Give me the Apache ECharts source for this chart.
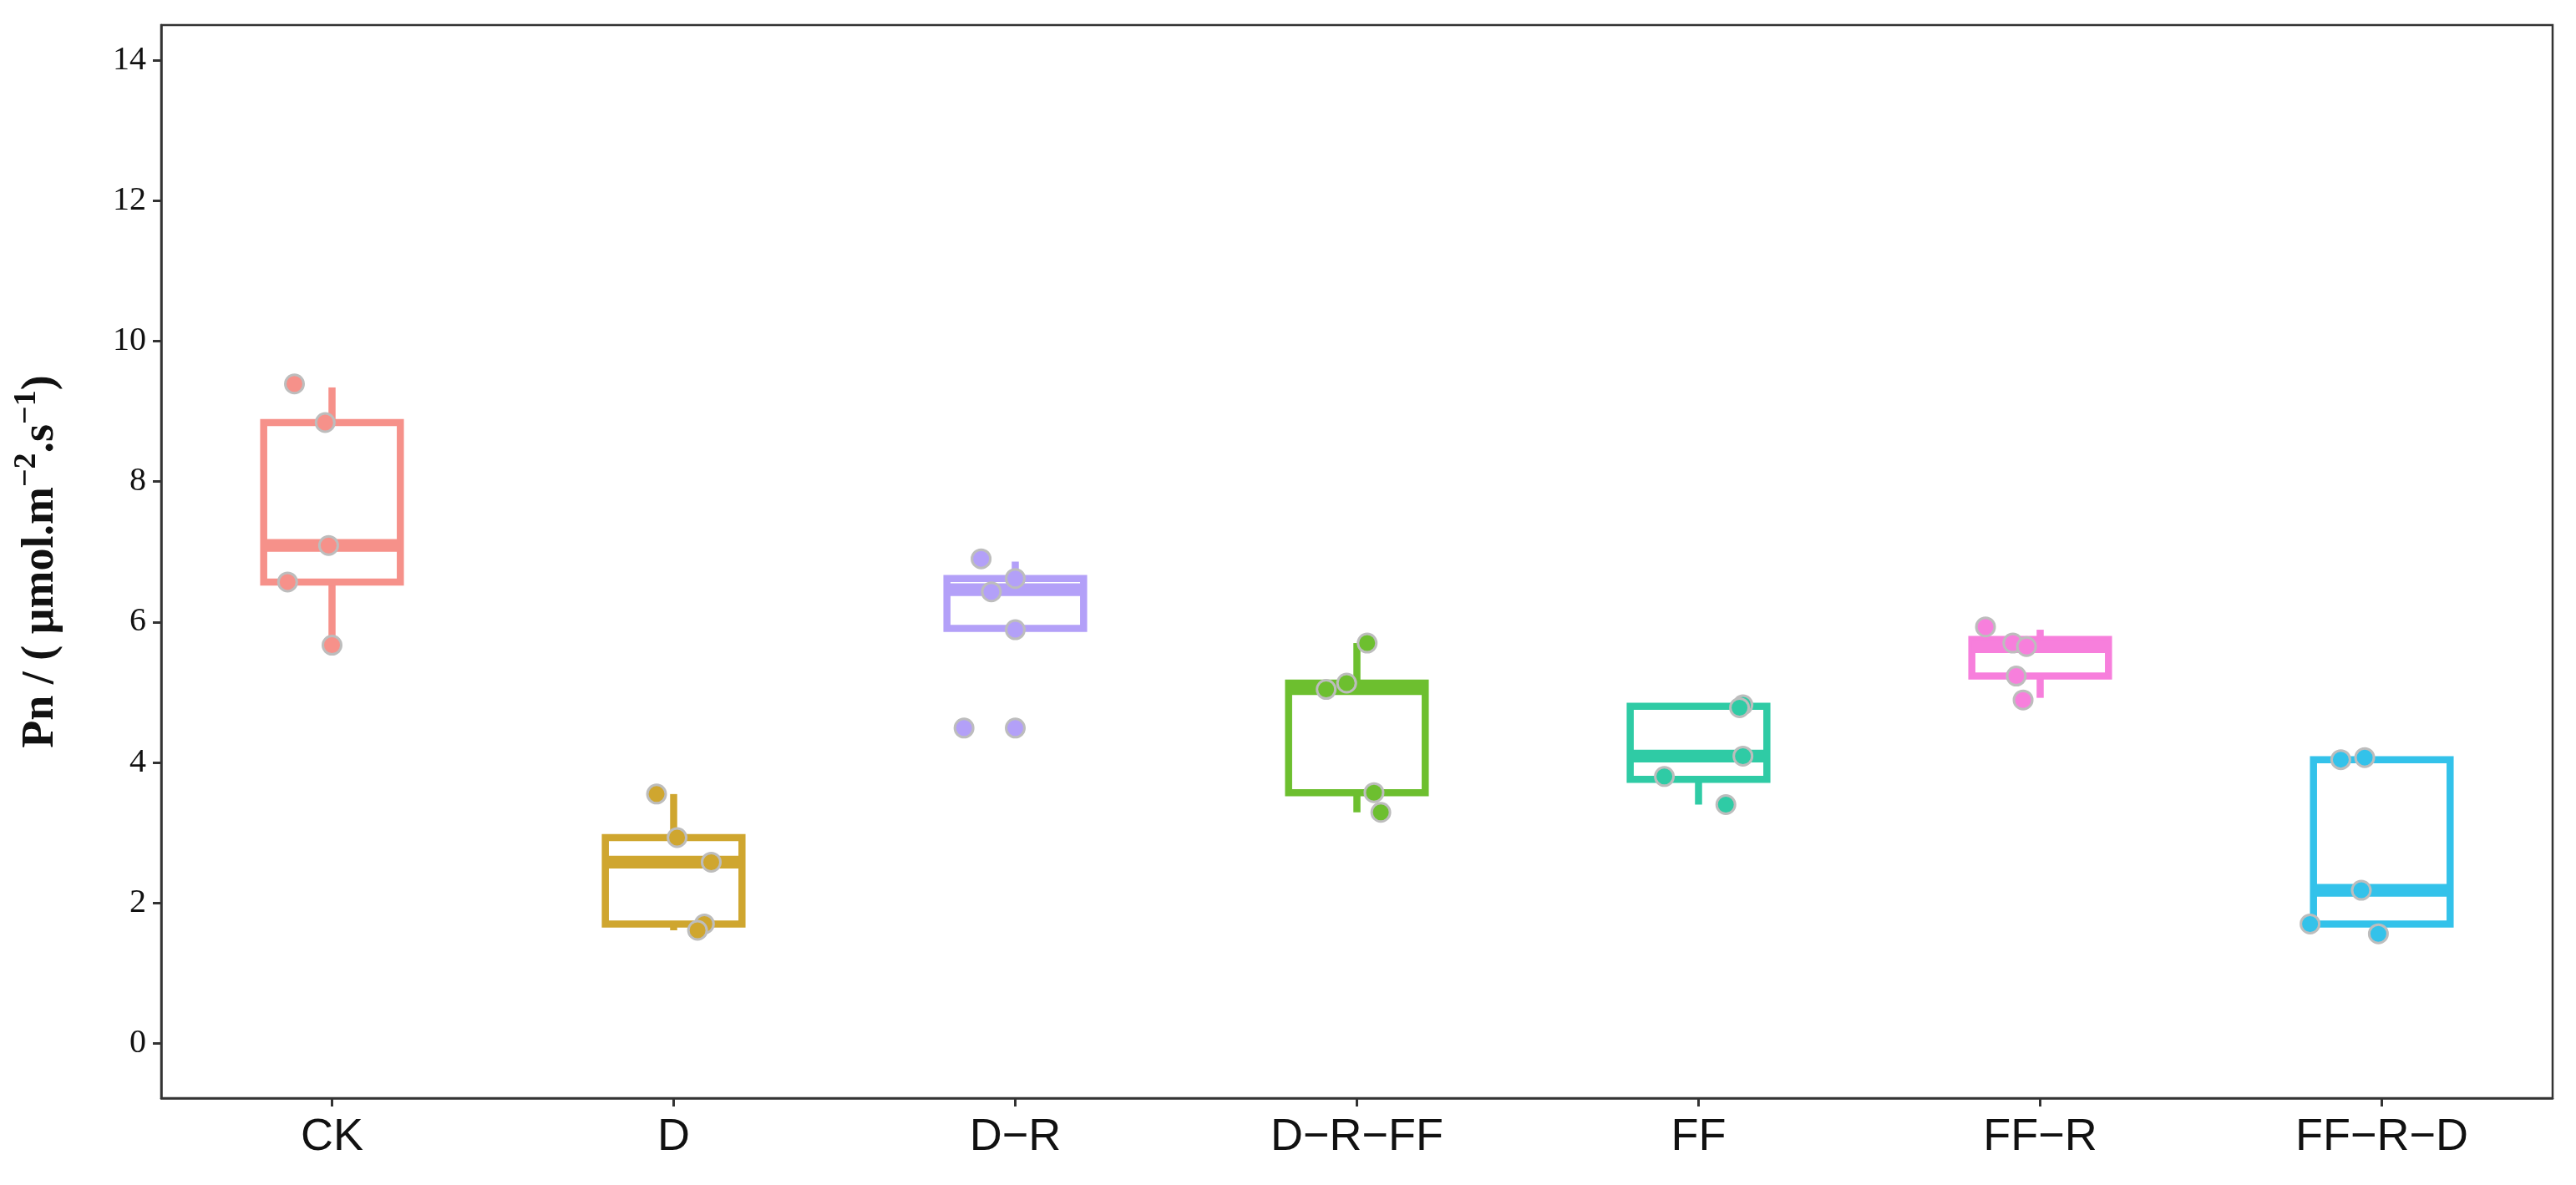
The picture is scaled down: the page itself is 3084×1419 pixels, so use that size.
<!DOCTYPE html>
<html><head><meta charset="utf-8">
<script src="https://cdn.jsdelivr.net/npm/echarts@6/dist/echarts.min.js"></script>
<style>html,body{margin:0;padding:0;background:#fff}#c{width:3084px;height:1419px}</style>
</head><body><div id="c"></div>
<script>
const categories = ['CK','D','D\u2212R','D\u2212R\u2212FF','FF','FF\u2212R','FF\u2212R\u2212D'];
const colors = ['#F6918A','#CFA62F','#B3A0F8','#6DBF2F','#2FCBA5','#F77FDC','#33C2EA'];
// [min, q1, median, q3, max]
const boxStats = [
  [5.67, 6.57, 7.09, 8.84, 9.34],
  [1.61, 1.70, 2.58, 2.93, 3.55],
  [5.89, 5.91, 6.46, 6.62, 6.86],
  [3.29, 3.57, 5.05, 5.13, 5.70],
  [3.40, 3.76, 4.09, 4.80, 4.80],
  [4.92, 5.23, 5.65, 5.75, 5.89],
  [1.58, 1.70, 2.18, 4.04, 4.04]
];
// jittered points: [category index + horizontal jitter, value]
const pointsCK = [[-0.11,9.39],[-0.02,8.84],[-0.01,7.09],[-0.13,6.57],[0.00,5.67]];
const pointsD = [[0.95,3.55],[1.01,2.93],[1.11,2.58],[1.09,1.70],[1.07,1.61]];
const pointsDR = [[1.90,6.90],[2.00,6.62],[1.93,6.43],[2.00,5.89],[1.85,4.49],[2.00,4.49]];
const pointsDRFF = [[3.03,5.70],[2.97,5.13],[2.91,5.04],[3.05,3.57],[3.07,3.29]];
const pointsFF = [[4.13,4.82],[4.12,4.78],[4.13,4.09],[3.90,3.80],[4.08,3.40]];
const pointsFFR = [[4.84,5.93],[4.92,5.70],[4.96,5.65],[4.93,5.23],[4.95,4.89]];
const pointsFFRD = [[5.88,4.04],[5.95,4.07],[5.94,2.18],[5.79,1.70],[5.99,1.56]];
const yTicks = [0,2,4,6,8,10,12,14];

const allPoints = [pointsCK,pointsD,pointsDR,pointsDRFF,pointsFF,pointsFFR,pointsFFRD];
const chart = echarts.init(document.getElementById('c'));
const scatterSeries = allPoints.map((pts,i)=>({
  type:'scatter', xAxisIndex:1, yAxisIndex:0, z:5,
  data: pts, symbolSize:22,
  itemStyle:{color:colors[i], borderColor:'#BDBDBD', borderWidth:3, opacity:1}
}));
chart.setOption({
  animation:false,
  backgroundColor:'#fff',
  grid:{left:193, right:28, top:30, bottom:104, show:true, borderColor:'#333', borderWidth:2.5, backgroundColor:'transparent'},
  xAxis:[
    {type:'category', data:categories, boundaryGap:true,
     axisLine:{show:true, onZero:false, lineStyle:{color:'#333', width:2.5}},
     axisTick:{show:true, alignWithLabel:true, length:10, lineStyle:{color:'#333', width:3}},
     axisLabel:{fontFamily:'Liberation Sans', fontSize:54, color:'#111', margin:20},
     splitLine:{show:false}},
    {type:'value', min:-0.5, max:6.5, show:false, axisLine:{onZero:false}}
  ],
  yAxis:{type:'value', min:-0.78, max:14.5,
    name:'{b|Pn / ( \u03bcmol.m}{s|\u22122}{b|.s}{s|\u22121}{b|)}',
    nameLocation:'middle', nameGap:108, nameRotate:90,
    nameTextStyle:{rich:{
      b:{fontFamily:'Liberation Serif', fontWeight:'bold', fontSize:54, color:'#111'},
      s:{fontFamily:'Liberation Serif', fontWeight:'bold', fontSize:38, color:'#111', verticalAlign:'bottom', padding:[0,0,34,0]}
    }},
    axisLine:{show:true, onZero:false, lineStyle:{color:'#333', width:2.5}},
    axisTick:{show:true, length:10, customValues:yTicks, lineStyle:{color:'#333', width:3}},
    axisLabel:{customValues:yTicks, fontFamily:'Liberation Serif', fontSize:40, color:'#111', margin:18},
    splitLine:{show:false}
  },
  series:[
    {type:'custom', xAxisIndex:0, yAxisIndex:0, z:3,
     data: boxStats.map((s,i)=>[i].concat(s)),
     renderItem:function(params, api){
       const i = api.value(0);
       const c = colors[i];
       const w = api.size([1,0])[0]*0.4;
       const pMin = api.coord([i, api.value(1)]);
       const pQ1 = api.coord([i, api.value(2)]);
       const pMed = api.coord([i, api.value(3)]);
       const pQ3 = api.coord([i, api.value(4)]);
       const pMax = api.coord([i, api.value(5)]);
       const x = pQ1[0];
       const lw = 8.5;
       return {type:'group', children:[
         {type:'line', shape:{x1:x,y1:pQ3[1],x2:x,y2:pMax[1]}, style:{stroke:c,lineWidth:lw}},
         {type:'line', shape:{x1:x,y1:pQ1[1],x2:x,y2:pMin[1]}, style:{stroke:c,lineWidth:lw}},
         {type:'rect', shape:{x:x-w/2,y:pQ3[1],width:w,height:pQ1[1]-pQ3[1]}, style:{fill:'#fff',stroke:c,lineWidth:lw}},
         {type:'line', shape:{x1:x-w/2,y1:pMed[1],x2:x+w/2,y2:pMed[1]}, style:{stroke:c,lineWidth:lw*1.8}}
       ]};
     }}
  ].concat(scatterSeries)
});
</script></body></html>
